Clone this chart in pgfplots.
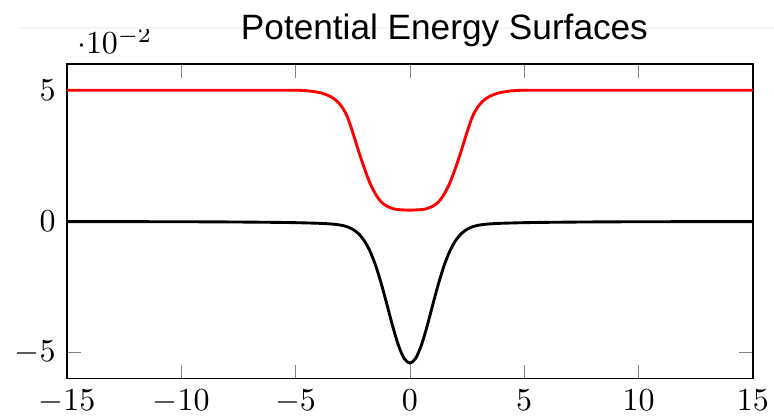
\documentclass[border=0pt]{standalone}
\usepackage{pgfplots}
\pgfplotsset{compat=1.18}
\usepackage{fontspec}
\newfontfamily\titlefont{Liberation Sans}

\begin{document}
\begin{tikzpicture}
\begin{axis}[
  name=ax,
  scale only axis,
  width=214.4pt, height=98.4pt,
  xmin=-15, xmax=15,
  ymin=-0.06, ymax=0.06,
  xtick={-15,-10,...,15},
  ytick={-0.05,0,0.05},
]
% upper surface
\addplot[red, line width=0.9pt, smooth] coordinates {
(-15,0.05) (-10,0.05) (-6,0.05) (-5,0.05) (-4.5,0.0498) (-4,0.0492)
(-3.75,0.0486) (-3.5,0.0477) (-3.25,0.0463) (-3,0.0440) (-2.75,0.0402)
(-2.5,0.0340) (-2.25,0.0270) (-2,0.0205) (-1.75,0.0147) (-1.5,0.0104)
(-1.25,0.0074) (-1,0.0058) (-0.75,0.0049) (-0.5,0.0045) (0,0.0043)
(0.5,0.0045) (0.75,0.0049) (1,0.0058) (1.25,0.0074) (1.5,0.0104) (1.75,0.0147)
(2,0.0205) (2.25,0.0270) (2.5,0.0340) (2.75,0.0402) (3,0.0440)
(3.25,0.0463) (3.5,0.0477) (3.75,0.0486) (4,0.0492) (4.5,0.0498)
(5,0.05) (6,0.05) (10,0.05) (15,0.05)
};
% lower surface
\addplot[black, line width=0.9pt, smooth] coordinates {
(-15,-0.00006) (-12.5,-0.00009) (-10,-0.00013) (-8,-0.0002) (-6,-0.00035)
(-5,-0.00048) (-4,-0.00071) (-3.5,-0.00094) (-3.25,-0.00114) (-3,-0.00146)
(-2.75,-0.0020) (-2.5,-0.0030) (-2.25,-0.00465) (-2,-0.0073)
(-1.75,-0.01126) (-1.5,-0.01675) (-1.25,-0.02374) (-1,-0.03178)
(-0.75,-0.0400) (-0.5,-0.04723) (-0.25,-0.05222) (0,-0.0540)
(0.25,-0.05222) (0.5,-0.04723) (0.75,-0.0400) (1,-0.03178)
(1.25,-0.02374) (1.5,-0.01675) (1.75,-0.01126) (2,-0.0073)
(2.25,-0.00465) (2.5,-0.0030) (2.75,-0.0020) (3,-0.00146) (3.25,-0.00114)
(3.5,-0.00094) (4,-0.00071) (5,-0.00048) (6,-0.00035) (8,-0.0002)
(10,-0.00013) (12.5,-0.00009) (15,-0.00006)
};
\end{axis}
% strip over the top, as in the screenshot
\fill[white] ([xshift=-20.9pt,yshift=11.25pt]ax.north west) rectangle ([xshift=6.6pt,yshift=21pt]ax.north east);
\draw[gray!8, line width=0.4pt] ([xshift=-14.6pt,yshift=11.25pt]ax.north west) -- ([xshift=6.6pt,yshift=11.25pt]ax.north east);
\node[anchor=base, inner sep=0pt, font=\titlefont\fontsize{11}{13}\selectfont]
  at ([xshift=10.8pt,yshift=7.7pt]ax.north) {Potential Energy Surfaces};
\pgfresetboundingbox
\path ([xshift=-20.9pt,yshift=-12.2pt]ax.south west) rectangle ([xshift=6.6pt,yshift=20pt]ax.north east);
\end{tikzpicture}
\end{document}
